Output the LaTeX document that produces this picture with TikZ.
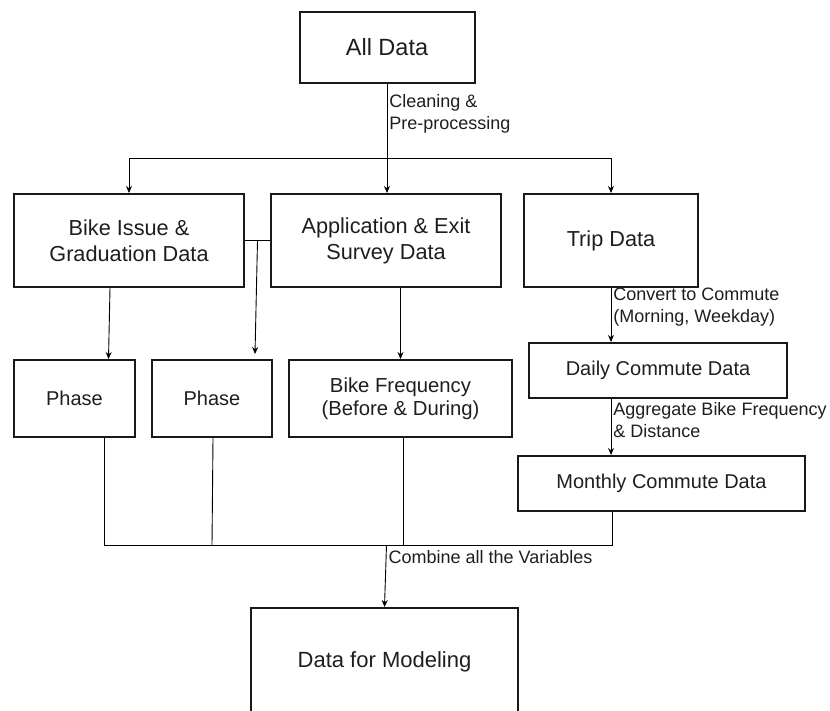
\documentclass[tikz,border=0pt]{standalone}
\usepackage{fontspec}
\setmainfont{Liberation Sans}
\usetikzlibrary{arrows.meta,calc}
\definecolor{BoxClr}{RGB}{25,25,25}
\definecolor{TextClr}{RGB}{30,30,30}

\begin{document}
\begin{tikzpicture}[x=1pt,y=-1pt,
  box/.style={draw=BoxClr,line width=2pt,inner sep=0pt,align=center,text=TextClr,
    font=\fontsize{20}{25}\selectfont},
  bigbox/.style={box,font=\fontsize{21.7}{26}\selectfont},
  lnk/.style={line width=0.9pt},
  arr/.style={lnk,-{Stealth[length=7pt,width=6pt]}},
  lbl/.style={right,align=left,inner sep=2pt,text=TextClr,
    font=\fontsize{18}{22}\selectfont}]
\clip (0,0) rectangle (830,711);

\node[box,minimum width=175pt,minimum height=71pt,font=\fontsize{23.5}{28}\selectfont] (allData) at (387,47.5) {All Data};

\node[bigbox,minimum width=230pt,minimum height=93pt] (bikeIssue) at (129,240.5) {Bike Issue \&\\Graduation Data};
\node[bigbox,minimum width=230pt,minimum height=93pt] (appSurvey) at (386,240.5) {Application \& Exit\\Survey Data};
\node[bigbox,minimum width=174pt,minimum height=93pt] (tripData) at (611,240.5) {Trip Data};

\node[box,minimum width=121pt,minimum height=77pt] (phaseA) at (74.5,398.5) {Phase};
\node[box,minimum width=120pt,minimum height=77pt] (phaseB) at (212,398.5) {Phase};
\node[box,minimum width=223pt,minimum height=77pt,font=\fontsize{20.3}{23.5}\selectfont] (bikeFreq) at (400.5,398.5) {Bike Frequency\\(Before \& During)};

\node[box,minimum width=258pt,minimum height=55pt] (dailyComm) at (658,370.5) {Daily Commute Data};
\node[box,minimum width=287pt,minimum height=55pt] (monthlyComm) at (661.5,483.5) {Monthly Commute Data};

\node[box,minimum width=267pt,minimum height=108pt,font=\fontsize{22}{26}\selectfont] (modelData) at (384.5,662) {Data for Modeling};

\coordinate (split) at (387,158);
\coordinate (busL) at (104,545);
\coordinate (busR) at (612,545);
\coordinate (midJoin) at ($(bikeIssue.east)!0.5!(appSurvey.west)$);

\draw[lnk] (allData.south) -- node[lbl,pos=0.4] {Cleaning \&\\Pre-processing} (split);
\draw[arr] (split) -| (bikeIssue.north);
\draw[arr] (split) -- (split |- appSurvey.north);
\draw[arr] (split) -| (tripData.north);

\draw[arr] ([xshift=-19pt]bikeIssue.south) -- ([xshift=34pt]phaseA.north);
\draw[lnk] (bikeIssue.east) -- (appSurvey.west);
\draw[arr] (midJoin) -- ([xshift=43pt,yshift=5pt]phaseB.north);
\draw[arr] (bikeFreq.north |- appSurvey.south) -- (bikeFreq.north);

\draw[arr] (tripData.south) -- node[lbl,pos=0.36] {Convert to Commute\\(Morning, Weekday)} (tripData.south |- dailyComm.north);
\draw[arr] (tripData.south |- dailyComm.south) -- node[lbl,pos=0.37] {Aggregate Bike Frequency\\\& Distance} (tripData.south |- monthlyComm.north);

\draw[lnk] ([xshift=29.5pt]phaseA.south) -- (busL) -- (busR) -- (busR |- monthlyComm.south);
\draw[lnk] ([xshift=1pt]phaseB.south) -- (busL -| phaseB.south);
\draw[lnk] ([xshift=2.5pt]bikeFreq.south) -- ([xshift=2.5pt]busL -| bikeFreq.south);
\draw[arr] ([xshift=2pt]busL -| modelData.north) -- node[lbl,pos=0.2] {Combine all the Variables} (modelData.north);
\end{tikzpicture}
\end{document}
